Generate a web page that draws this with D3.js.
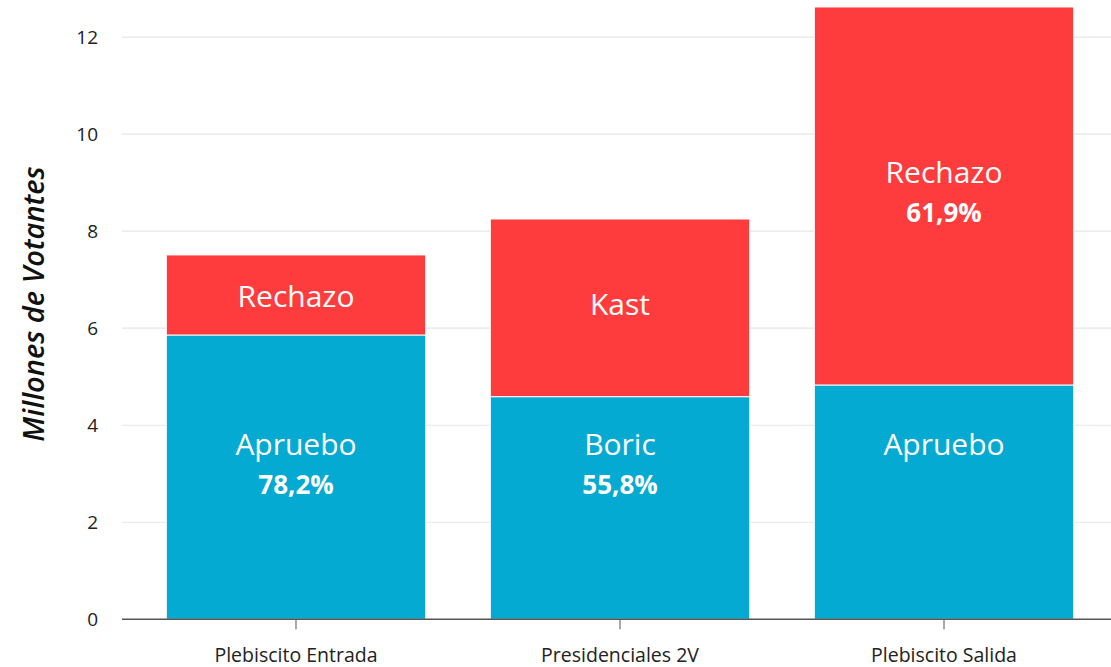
<!DOCTYPE html>
<html><head><meta charset="utf-8">
<script src="https://cdn.jsdelivr.net/npm/d3@7"></script>
<style>
body{margin:0;background:#fff;}
text{font-family:"Open Sans","Noto Sans",sans-serif;}
</style></head>
<body><svg id="chart" width="1111" height="667"></svg>
<script>
const categories = ["Plebiscito Entrada", "Presidenciales 2V", "Plebiscito Salida"];
const blueValues = [5.86, 4.59, 4.83];
const redValues = [1.65, 3.66, 7.79];
const blueNames = ["Apruebo", "Boric", "Apruebo"];
const redNames = ["Rechazo", "Kast", "Rechazo"];
const bluePct = ["78,2%", "55,8%", ""];
const redPct = ["", "", "61,9%"];
const blueLabelAt = [3.6, 3.6, 3.6];
const redLabelAt = [6.65, 6.48, 9.2];
const yTicks = [0, 2, 4, 6, 8, 10, 12];
const yTitle = "Millones de Votantes";

(function(){
const svg = d3.select("#chart");
const mLeft = 122, mRight = 1118, mTop = 7, mBottom = 619.3;
const yMax = d3.max(categories, (c, i) => blueValues[i] + redValues[i]);
const x = d3.scaleBand().domain(categories).range([mLeft, mRight]).paddingInner(0.2).paddingOuter(0.137);
const y = d3.scaleLinear().domain([0, yMax]).range([mBottom, mTop]);

svg.append("g").selectAll("line").data(yTicks.filter(d => d > 0)).join("line")
  .attr("x1", mLeft).attr("x2", 1111).attr("y1", d => y(d)).attr("y2", d => y(d))
  .attr("stroke", "#e6e6e6").attr("stroke-width", 1.2);

svg.append("g").selectAll("text").data(yTicks).join("text")
  .attr("x", 98).attr("y", d => y(d)).attr("dy", "0.35em").attr("text-anchor", "end")
  .attr("font-size", 19).attr("fill", "#222").text(d => d);

const g = svg.append("g");
categories.forEach((c, i) => {
  g.append("rect").attr("x", x(c)).attr("width", x.bandwidth())
    .attr("y", y(blueValues[i])).attr("height", y(0) - y(blueValues[i]))
    .attr("fill", "#04AAD1").attr("stroke", "#fff").attr("stroke-width", 1.2).attr("stroke-opacity", 0.8);
  g.append("rect").attr("x", x(c)).attr("width", x.bandwidth())
    .attr("y", y(blueValues[i] + redValues[i])).attr("height", y(blueValues[i]) - y(blueValues[i] + redValues[i]))
    .attr("fill", "#FF3C3D").attr("stroke", "#fff").attr("stroke-width", 1.2).attr("stroke-opacity", 0.8);
});

categories.forEach((c, i) => {
  const cx = x(c) + x.bandwidth() / 2;
  const addLab = (name, pct, v) => {
    const yy = y(v);
    g.append("text").attr("x", cx).attr("y", yy).attr("dy", "0.35em").attr("text-anchor", "middle")
      .attr("font-size", 30).attr("fill", "#fff").text(name);
    if (pct) g.append("text").attr("x", cx).attr("y", yy + 40).attr("dy", "0.35em").attr("text-anchor", "middle")
      .attr("font-size", 26).attr("font-weight", 700).attr("fill", "#fff").text(pct);
  };
  addLab(blueNames[i], bluePct[i], blueLabelAt[i]);
  addLab(redNames[i], redPct[i], redLabelAt[i]);
});

const xAxis = svg.append("g").attr("transform", `translate(0,${mBottom})`);
xAxis.append("line").attr("x1", mLeft).attr("x2", 1111).attr("stroke", "#555").attr("stroke-width", 1.5);
xAxis.selectAll("line.tick").data(categories).join("line").attr("class", "tick")
  .attr("x1", d => x(d) + x.bandwidth() / 2).attr("x2", d => x(d) + x.bandwidth() / 2)
  .attr("y1", 0).attr("y2", 10).attr("stroke", "#555").attr("stroke-width", 1);
xAxis.selectAll("text").data(categories).join("text")
  .attr("x", d => x(d) + x.bandwidth() / 2).attr("y", 36).attr("dy", "0.35em").attr("text-anchor", "middle")
  .attr("font-size", 19.5).attr("fill", "#222").text(d => d);

svg.append("text").attr("transform", "translate(34,304) rotate(-90)").attr("text-anchor", "middle")
  .attr("dy", "0.35em").attr("font-size", 29).attr("font-style", "italic").attr("font-weight", 600)
  .attr("fill", "#111").text(yTitle);
})();
</script></body></html>
